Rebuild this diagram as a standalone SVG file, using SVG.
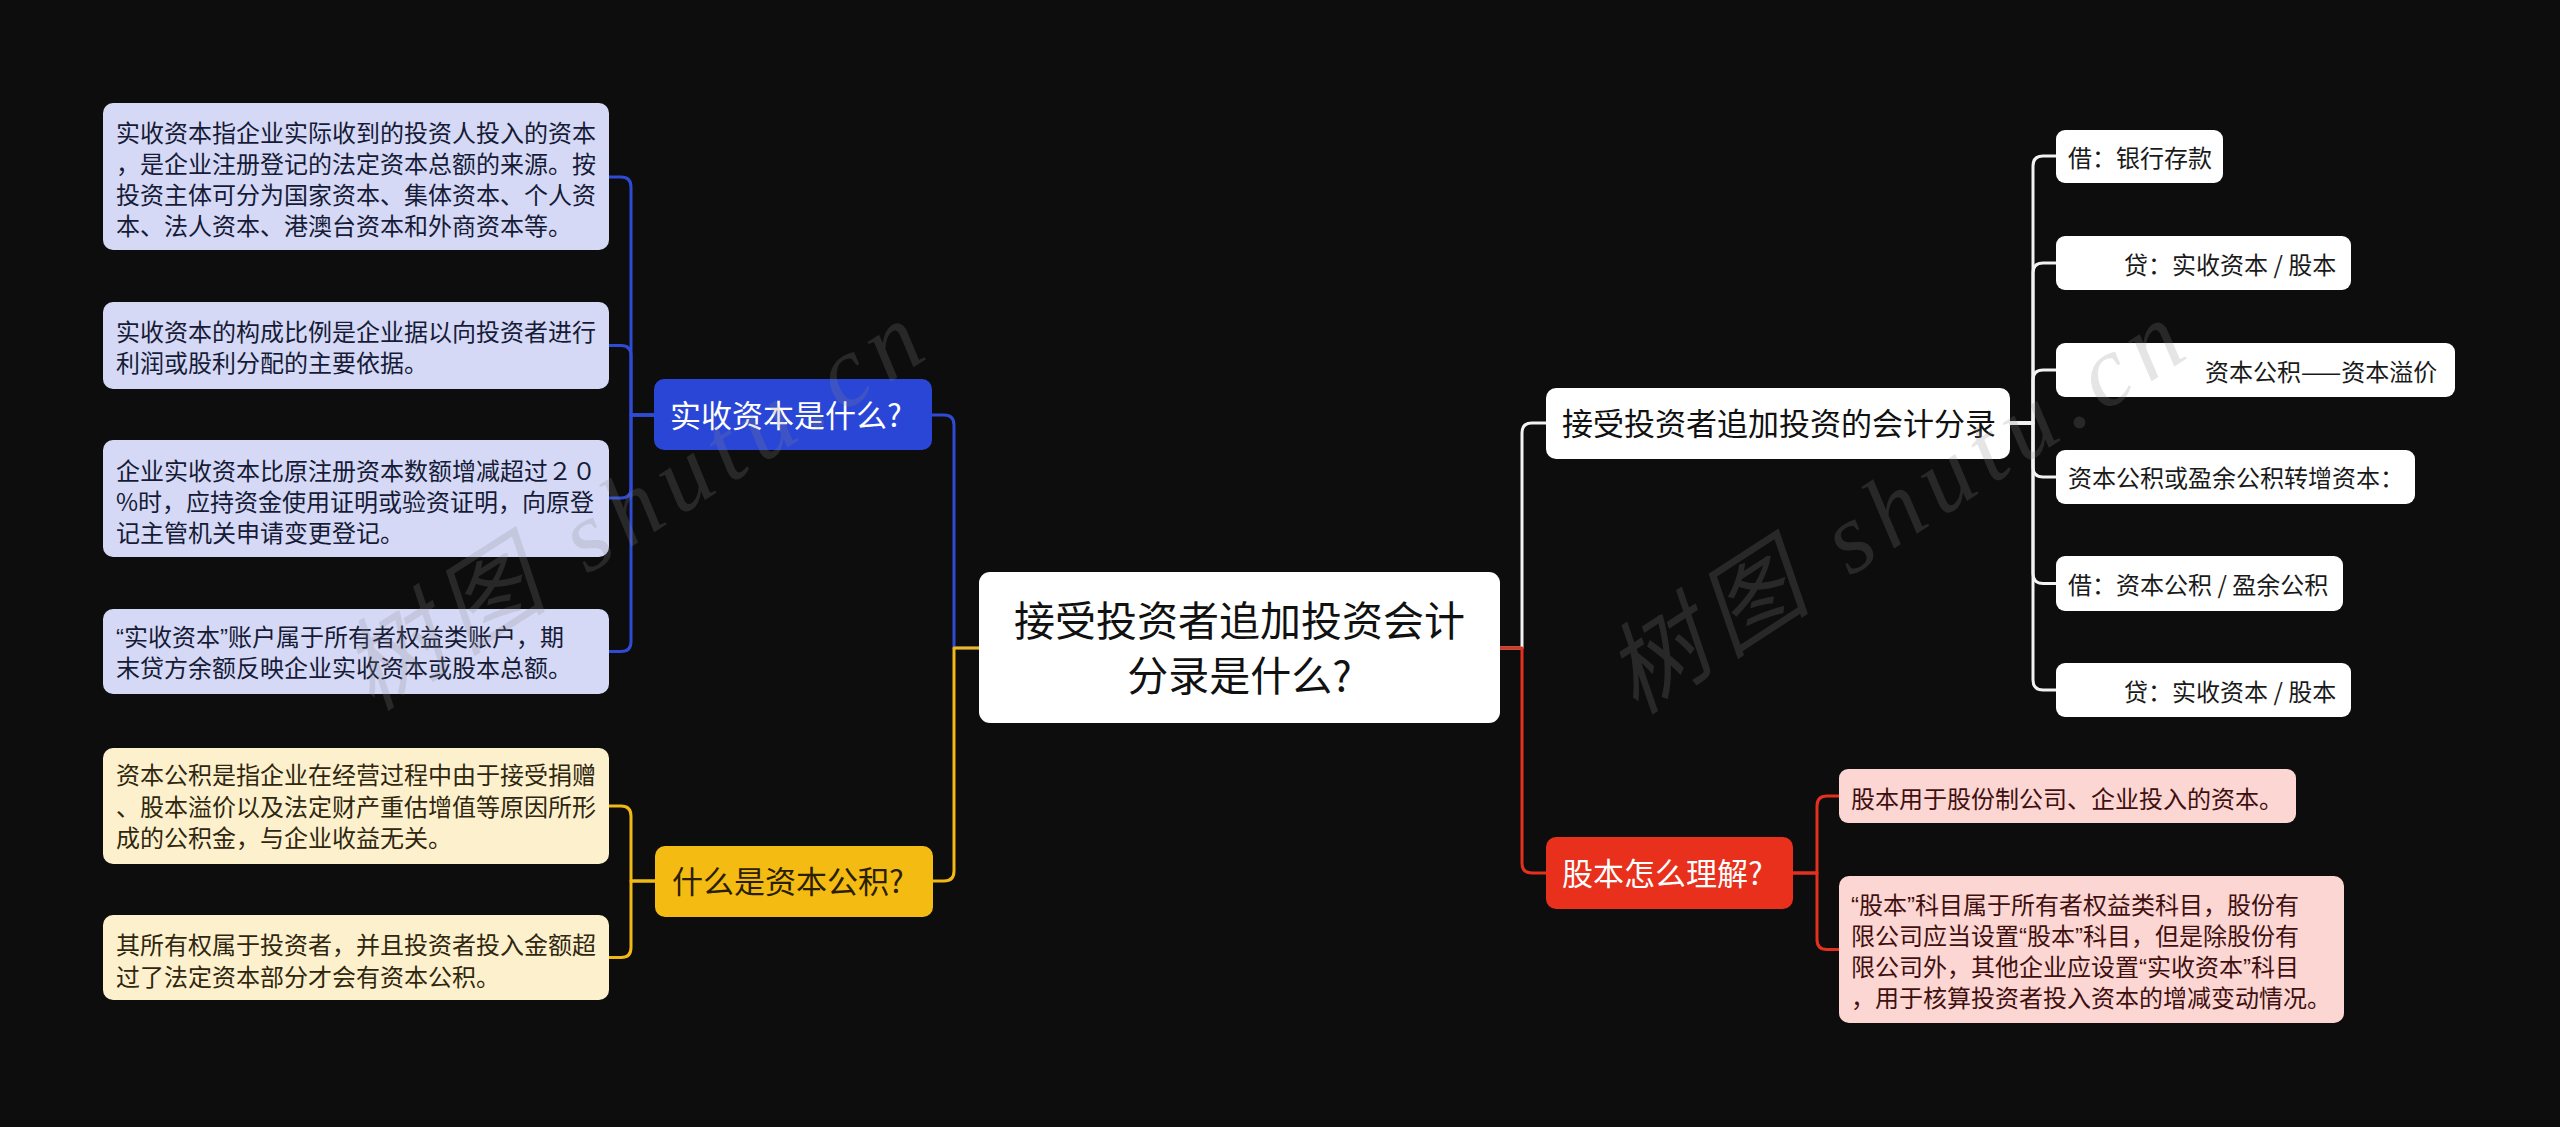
<svg xmlns="http://www.w3.org/2000/svg" width="2560" height="1127" viewBox="0 0 2560 1127">
<style>
text{font-family:"Noto Sans CJK SC","Noto Sans",sans-serif}
.q{font-family:"Liberation Sans",sans-serif}
.c{fill:none;stroke-width:3;stroke-linecap:round;stroke-linejoin:round}
.cb{stroke:#2f4ad3}.cy{stroke:#f2b816}.cr{stroke:#e3311f}.cw{stroke:#f2f2f2}
.lb rect{fill:#d5d9f6}.lb text{fill:#161b36;font-size:24px}
.ly rect{fill:#fdf1cd}.ly text{fill:#2f2710;font-size:24px}
.lr rect{fill:#fcd6d3}.lr text{fill:#3f1010;font-size:24px}
.lw rect{fill:#ffffff}.lw text{fill:#1a1a1a;font-size:24px}
.br text{font-size:31px}
.wm{font-family:"Liberation Serif","Noto Sans CJK SC",serif;font-style:italic;font-size:100px;fill:#8a8a8a;fill-opacity:0.22;letter-spacing:10px}
</style>
<rect x="0" y="0" width="2560" height="1127" fill="#0d0d0d"/>

<g id="connectors">
  <path class="c cb" d="M979 648 H954 V425 Q954 415 944 415 H932"/>
  <path class="c cy" d="M979 648 H954 V871 Q954 881 944 881 H933"/>
  <path class="c cb" d="M655 415 H631 V187 Q631 177 621 177 H609"/>
  <path class="c cb" d="M655 415 H631 V355.5 Q631 345.5 621 345.5 H609"/>
  <path class="c cb" d="M655 415 H631 V488 Q631 498 621 498 H609"/>
  <path class="c cb" d="M655 415 H631 V641.5 Q631 651.5 621 651.5 H609"/>
  <path class="c cy" d="M655 881 H631 V816 Q631 806 621 806 H609"/>
  <path class="c cy" d="M655 881 H631 V947.5 Q631 957.5 621 957.5 H609"/>
  <path class="c cw" d="M1500 648 H1522 V433 Q1522 423 1532 423 H1546"/>
  <path class="c cr" d="M1500 648 H1522 V863 Q1522 873 1532 873 H1546"/>
  <path class="c cw" d="M2010 423 H2033 V166 Q2033 156 2043 156 H2056"/>
  <path class="c cw" d="M2010 423 H2033 V273 Q2033 263 2043 263 H2056"/>
  <path class="c cw" d="M2010 423 H2033 V380 Q2033 370 2043 370 H2056"/>
  <path class="c cw" d="M2010 423 H2033 V467 Q2033 477 2043 477 H2056"/>
  <path class="c cw" d="M2010 423 H2033 V573.5 Q2033 583.5 2043 583.5 H2056"/>
  <path class="c cw" d="M2010 423 H2033 V680 Q2033 690 2043 690 H2056"/>
  <path class="c cr" d="M1793 873 H1817 V806 Q1817 796 1827 796 H1839"/>
  <path class="c cr" d="M1793 873 H1817 V939.5 Q1817 949.5 1827 949.5 H1839"/>
</g>

<g id="root">
  <rect x="979" y="572" width="521" height="151" rx="11" fill="#ffffff"/>
  <text x="1239.5" y="636" text-anchor="middle" font-size="41" fill="#111111">接受投资者追加投资会计</text>
  <text x="1239.5" y="691" text-anchor="middle" font-size="41" fill="#111111">分录是什么?</text>
</g>

<g id="branch-paid-in" class="br">
  <rect x="654" y="379" width="278" height="71" rx="10" fill="#2a46d6"/>
  <text x="670" y="427" fill="#ffffff">实收资本是什么?</text>
</g>
<g id="branch-capital-reserve" class="br">
  <rect x="655" y="846" width="278" height="71" rx="10" fill="#f4bb12"/>
  <text x="672" y="893" fill="#2a2000">什么是资本公积?</text>
</g>
<g id="branch-entry" class="br">
  <rect x="1546" y="388" width="464" height="71" rx="10" fill="#ffffff"/>
  <text x="1562" y="435" fill="#111111">接受投资者追加投资的会计分录</text>
</g>
<g id="branch-share" class="br">
  <rect x="1546" y="837" width="247" height="72" rx="10" fill="#e8301c"/>
  <text x="1562" y="885" fill="#ffffff">股本怎么理解?</text>
</g>

<g id="leaf-b1" class="lb">
  <rect x="103" y="103" width="506" height="147" rx="10"/>
  <text x="116" y="142">实收资本指企业实际收到的投资人投入的资本</text>
  <text x="116" y="173">，是企业注册登记的法定资本总额的来源。按</text>
  <text x="116" y="204">投资主体可分为国家资本、集体资本、个人资</text>
  <text x="116" y="235">本、法人资本、港澳台资本和外商资本等。</text>
</g>
<g id="leaf-b2" class="lb">
  <rect x="103" y="302" width="506" height="87" rx="10"/>
  <text x="116" y="341">实收资本的构成比例是企业据以向投资者进行</text>
  <text x="116" y="372">利润或股利分配的主要依据。</text>
</g>
<g id="leaf-b3" class="lb">
  <rect x="103" y="440" width="506" height="117" rx="10"/>
  <text x="116" y="480">企业实收资本比原注册资本数额增减超过２０</text>
  <text x="116" y="511">%时，应持资金使用证明或验资证明，向原登</text>
  <text x="116" y="542">记主管机关申请变更登记。</text>
</g>
<g id="leaf-b4" class="lb">
  <rect x="103" y="609" width="506" height="85" rx="10"/>
  <text x="116" y="646"><tspan class="q">“</tspan>实收资本<tspan class="q">”</tspan>账户属于所有者权益类账户，期</text>
  <text x="116" y="677">末贷方余额反映企业实收资本或股本总额。</text>
</g>
<g id="leaf-y1" class="ly">
  <rect x="103" y="748" width="506" height="116" rx="10"/>
  <text x="116" y="784">资本公积是指企业在经营过程中由于接受捐赠</text>
  <text x="116" y="816">、股本溢价以及法定财产重估增值等原因所形</text>
  <text x="116" y="847">成的公积金，与企业收益无关。</text>
</g>
<g id="leaf-y2" class="ly">
  <rect x="103" y="915" width="506" height="85" rx="10"/>
  <text x="116" y="954">其所有权属于投资者，并且投资者投入金额超</text>
  <text x="116" y="986">过了法定资本部分才会有资本公积。</text>
</g>

<g id="leaf-w1" class="lw">
  <rect x="2056" y="130" width="167" height="53" rx="9"/>
  <text x="2068" y="167">借：银行存款</text>
</g>
<g id="leaf-w2" class="lw">
  <rect x="2056" y="236" width="295" height="54" rx="9"/>
  <text x="2124" y="274">贷：实收资本 / 股本</text>
</g>
<g id="leaf-w3" class="lw">
  <rect x="2056" y="343" width="399" height="54" rx="9"/>
  <text x="2205" y="381">资本公积——资本溢价</text>
</g>
<g id="leaf-w4" class="lw">
  <rect x="2056" y="450" width="359" height="54" rx="9"/>
  <text x="2068" y="487">资本公积或盈余公积转增资本：</text>
</g>
<g id="leaf-w5" class="lw">
  <rect x="2056" y="556" width="287" height="55" rx="9"/>
  <text x="2068" y="594">借：资本公积 / 盈余公积</text>
</g>
<g id="leaf-w6" class="lw">
  <rect x="2056" y="663" width="295" height="54" rx="9"/>
  <text x="2124" y="701">贷：实收资本 / 股本</text>
</g>

<g id="leaf-r1" class="lr">
  <rect x="1839" y="769" width="457" height="54" rx="9"/>
  <text x="1851" y="808">股本用于股份制公司、企业投入的资本。</text>
</g>
<g id="leaf-r2" class="lr">
  <rect x="1839" y="876" width="505" height="147" rx="10"/>
  <text x="1851" y="914"><tspan class="q">“</tspan>股本<tspan class="q">”</tspan>科目属于所有者权益类科目，股份有</text>
  <text x="1851" y="945">限公司应当设置<tspan class="q">“</tspan>股本<tspan class="q">”</tspan>科目，但是除股份有</text>
  <text x="1851" y="976">限公司外，其他企业应设置<tspan class="q">“</tspan>实收资本<tspan class="q">”</tspan>科目</text>
  <text x="1851" y="1007">，用于核算投资者投入资本的增减变动情况。</text>
</g>

<g id="watermark">
  <text class="wm" transform="translate(372 712) rotate(-32.5)">树图 shutu.cn</text>
  <text class="wm" transform="translate(1636 716) rotate(-33)">树图 shutu.cn</text>
</g>
</svg>
